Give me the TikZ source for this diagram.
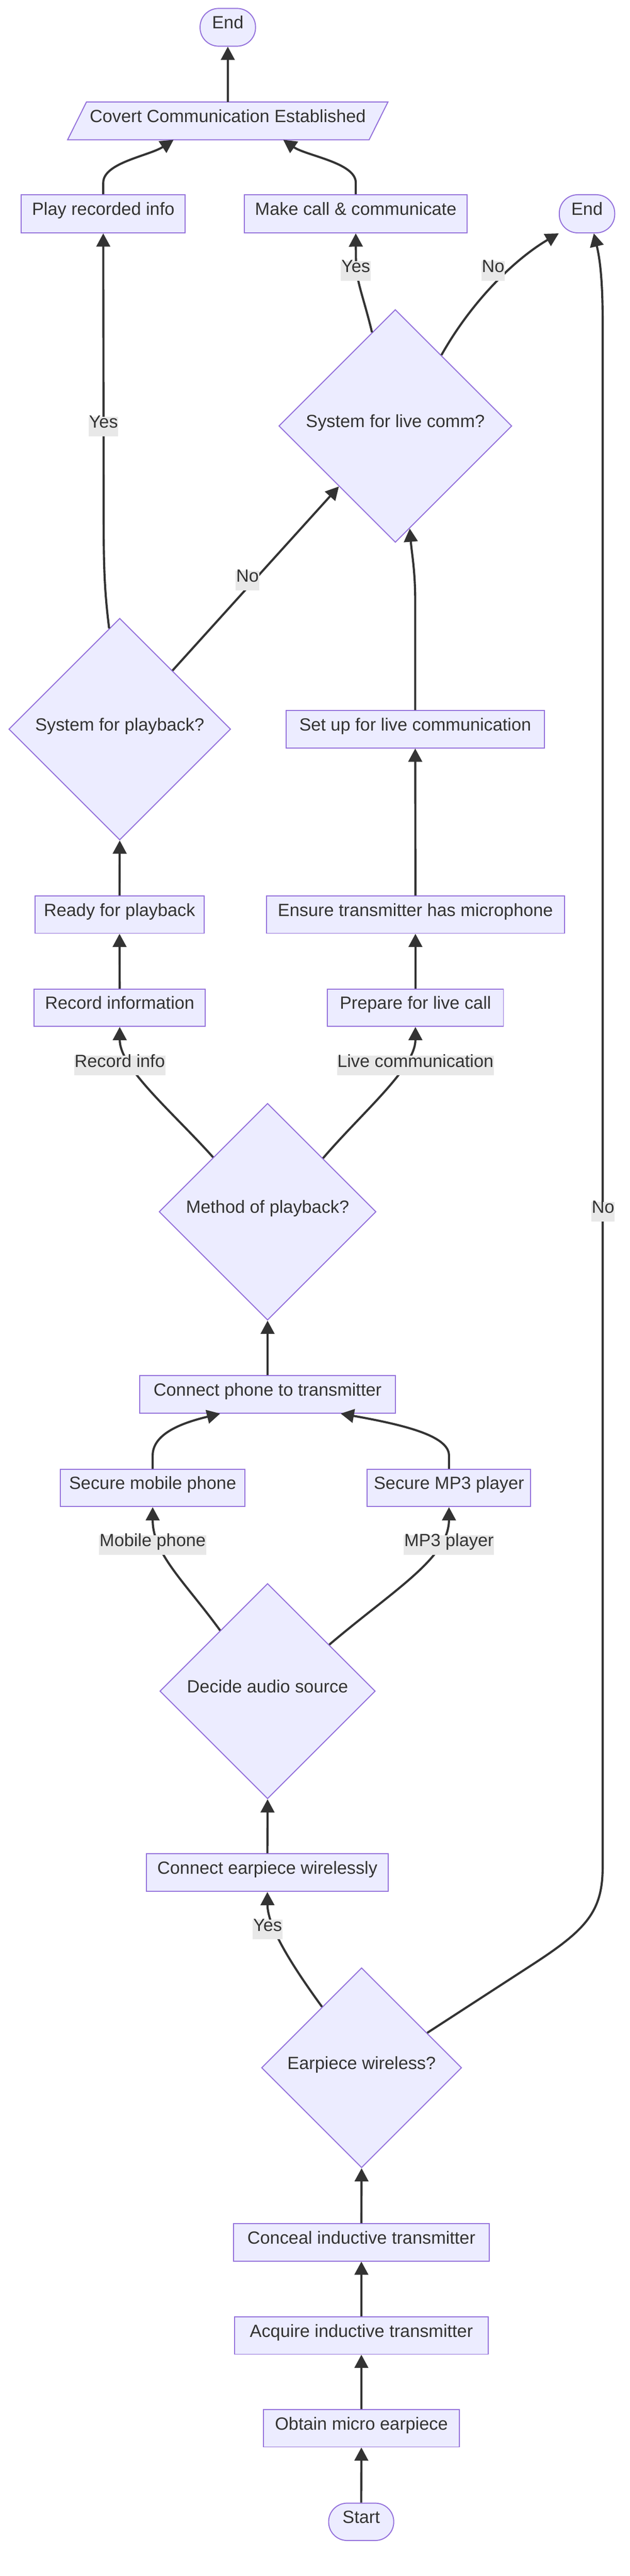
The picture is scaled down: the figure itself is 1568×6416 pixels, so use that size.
\documentclass[tikz,border=0pt]{standalone}
\usepackage{fontspec}
\setmainfont{Liberation Sans}
\usetikzlibrary{arrows.meta,shapes.geometric,calc}
\pgfdeclarelayer{bg}
\pgfsetlayers{bg,main}
\definecolor{nodefill}{HTML}{ECECFF}
\definecolor{nodeline}{HTML}{9370DB}
\definecolor{ink}{HTML}{333333}
\definecolor{labelbg}{HTML}{E8E8E8}
\begin{document}
\begin{tikzpicture}[x=1pt,y=-1pt,
  base/.style={font=\fontsize{44}{53}\selectfont, text=ink, text height=0.716em, text depth=0pt, align=center},
  box/.style={base, draw=nodeline, fill=nodefill, line width=2.5pt, minimum height=93pt, inner sep=0pt},
  term/.style={box, rounded corners=46pt, minimum height=94pt},
  dia/.style={base, diamond, aspect=1, draw=nodeline, fill=nodefill, line width=2.5pt, inner sep=0pt},
  elabel/.style={base, fill=labelbg, inner xsep=1pt, inner ysep=0pt, minimum height=49pt},
  flow/.style={draw=ink, line width=5.3pt, -{Triangle[length=33pt,width=34pt]}},
]
\useasboundingbox (0,0) rectangle (1568,6416);
\begin{pgfonlayer}{bg}
\fill[white] (0,0) rectangle (1568,6416);
\end{pgfonlayer}

% nodes
\node[term, minimum width=138pt] (end1) at (567,68) {End};
\node[base, minimum width=750pt, minimum height=94pt, inner sep=0pt] (covert) at (567,301) {Covert Communication Established};
\begin{pgfonlayer}{bg}
\draw[draw=nodeline, fill=nodefill, line width=2.5pt]
  ($(covert.north west)+(23.5,0)$) -- ($(covert.north east)+(23.5,0)$) --
  ($(covert.south east)+(-23.5,0)$) -- ($(covert.south west)+(-23.5,0)$) -- cycle;
\end{pgfonlayer}
\node[box, minimum width=408pt, minimum height=95pt] (play) at (257,532.5) {Play recorded info};
\node[box, minimum width=555pt, minimum height=95pt] (makecall) at (885.5,532.5) {Make call \& communicate};
\node[term, minimum width=138pt, minimum height=95pt] (end2) at (1461,532.5) {End};
\node[dia, minimum width=580pt, minimum height=580pt] (livecomm) at (984,1061) {System for live comm?};
\node[dia, minimum width=552pt, minimum height=552pt] (playback) at (298,1816) {System for playback?};
\node[box, minimum width=643pt] (setup) at (1033.5,1816.5) {Set up for live communication};
\node[box, minimum width=421pt] (ready) at (297.5,2278) {Ready for playback};
\node[box, minimum width=742pt] (ensure) at (1034,2278) {Ensure transmitter has microphone};
\node[box, minimum width=426pt] (record) at (298,2510) {Record information};
\node[box, minimum width=438pt] (prepare) at (1034,2510) {Prepare for live call};
\node[dia, minimum width=540pt, minimum height=540pt] (method) at (666,3018) {Method of playback?};
\node[box, minimum width=636pt] (connect) at (666,3473) {Connect phone to transmitter};
\node[box, minimum width=460pt] (mobile) at (380,3706) {Secure mobile phone};
\node[box, minimum width=407pt] (mp3) at (1117.5,3706) {Secure MP3 player};
\node[dia, minimum width=536pt, minimum height=536pt] (decide) at (666,4212) {Decide audio source};
\node[box, minimum width=601pt, minimum height=94pt] (earconn) at (665.5,4664) {Connect earpiece wirelessly};
\node[dia, minimum width=498pt, minimum height=498pt] (wireless) at (900,5150) {Earpiece wireless?};
\node[box, minimum width=637pt] (conceal) at (899.5,5585) {Conceal inductive transmitter};
\node[box, minimum width=631pt] (acquire) at (899.5,5817) {Acquire inductive transmitter};
\node[box, minimum width=487pt] (obtain) at (899.5,6048) {Obtain micro earpiece};
\node[term, minimum width=162pt, minimum height=93pt] (start) at (899,6281) {Start};

% connectors
\draw[flow] (covert.north) -- (end1.south);
\draw[flow] (play.north) -- (257,455) .. controls (257,405) and (372,388) .. ($(covert.south)+(-135,0)$);
\draw[flow] (makecall.north) -- (885.5,455) .. controls (885.5,405) and (762,388) .. ($(covert.south)+(138,0)$);
\draw[flow] (livecomm.104) .. controls (905,740) and (886,700) .. (886,650) -- (makecall.south);
\draw[flow] (livecomm.57.4) .. controls (1180,740) and (1290,640) .. (end2.south west);
\draw[flow] (wireless.28.2) -- (1330,4890) .. controls (1460,4805) and (1500,4760) .. (1500,4650)
  -- (1500,800) .. controls (1500,690) and (1492,640) .. ($(end2.south)+(17,0)$);
\draw[flow] (playback.48.5) -- (livecomm.227.4);
\draw[flow] (playback.96.2) .. controls (261,1480) and (258,1420) .. (258,1300) -- (play.south);
\draw[flow] (setup.north) -- (1033.5,1500) .. controls (1033.5,1420) and (1025,1380) .. (livecomm.278.1);
\draw[flow] (ready.north) -- (playback.south);
\draw[flow] (record.north) -- (ready.south);
\draw[flow] (prepare.north) -- (ensure.south);
\draw[flow] (ensure.north) -- (setup.south);
\draw[flow] (method.135.4) .. controls (430,2770) and (298,2660) .. (record.south);
\draw[flow] (method.44.6) .. controls (902,2770) and (1034,2660) .. (prepare.south);
\draw[flow] (connect.north) -- (method.south);
\draw[flow] (mobile.north) -- (380,3625) .. controls (380,3565) and (470,3540) .. ($(connect.south)+(-118,0)$);
\draw[flow] (mp3.north) -- (1117.5,3625) .. controls (1117.5,3575) and (1000,3548) .. ($(connect.south)+(182,0)$);
\draw[flow] (decide.128) .. controls (460,3940) and (380,3870) .. (mobile.south);
\draw[flow] (decide.37.6) .. controls (980,3960) and (1117.5,3880) .. (mp3.south);
\draw[flow] (earconn.north) -- (decide.south);
\draw[flow] (wireless.123.7) .. controls (730,4900) and (666,4800) .. (earconn.south);
\draw[flow] (conceal.north) -- (wireless.south);
\draw[flow] (acquire.north) -- (conceal.south);
\draw[flow] (obtain.north) -- (acquire.south);
\draw[flow] (start.north) -- (obtain.south);

% edge labels
\node[elabel] (lyes1) at (885.5,675) {Yes};
\node[elabel] (lno1) at (1227.5,675) {No};
\node[elabel] (lyes2) at (257.5,1062) {Yes};
\node[elabel] (lno2) at (616,1446) {No};
\node[elabel] (lrec) at (298,2654) {Record info};
\node[elabel] (llive) at (1034,2654) {Live communication};
\node[elabel] (lno3) at (1501,3018) {No};
\node[elabel] (lmob) at (380,3848) {Mobile phone};
\node[elabel] (lmp3) at (1117.5,3848) {MP3 player};
\node[elabel] (lyes3) at (666,4806) {Yes};
\end{tikzpicture}
\end{document}
